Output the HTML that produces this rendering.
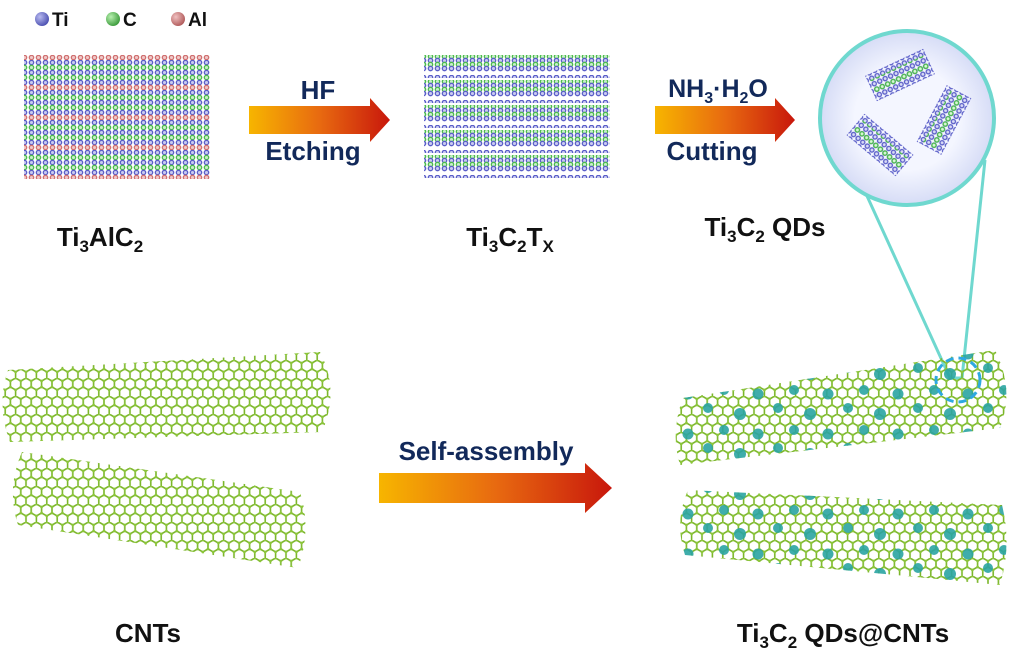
<!DOCTYPE html>
<html><head><meta charset="utf-8"><style>
html,body{margin:0;padding:0;background:#fff;}
svg{display:block;}
.lab{font-family:"Liberation Sans",sans-serif;font-weight:bold;fill:#111;}
.arr{font-family:"Liberation Sans",sans-serif;font-weight:bold;fill:#12295a;}
</style></head><body>
<svg width="1024" height="658" viewBox="0 0 1024 658" xmlns="http://www.w3.org/2000/svg">
<defs>
<linearGradient id="ag" x1="0" x2="1" y1="0" y2="0">
<stop offset="0" stop-color="#f7b500"/><stop offset="0.5" stop-color="#e86a10"/><stop offset="1" stop-color="#c8170c"/>
</linearGradient>
<radialGradient id="ti" cx="0.35" cy="0.35" r="0.7"><stop offset="0" stop-color="#b8baf0"/><stop offset="1" stop-color="#4a4fb0"/></radialGradient>
<radialGradient id="cc" cx="0.35" cy="0.35" r="0.7"><stop offset="0" stop-color="#b8f0b0"/><stop offset="1" stop-color="#3a9a3a"/></radialGradient>
<radialGradient id="al" cx="0.35" cy="0.35" r="0.7"><stop offset="0" stop-color="#f0c0c0"/><stop offset="1" stop-color="#b05a5a"/></radialGradient>
<radialGradient id="mag" cx="0.5" cy="0.5" r="0.5"><stop offset="0.6" stop-color="#f4f6ff"/><stop offset="1" stop-color="#d6dcf6"/></radialGradient>
<pattern id="p1" width="7" height="30" patternUnits="userSpaceOnUse">
<g fill="#c8caf0" stroke-width="1.3">
<circle cx="3.5" cy="2.5" r="2.2" stroke="#5a5ec8"/>
<circle cx="3.5" cy="7.5" r="2.2" stroke="#4cba4c" fill="#c8f0c8"/>
<circle cx="3.5" cy="12.5" r="2.2" stroke="#5a5ec8"/>
<circle cx="3.5" cy="17.5" r="2.2" stroke="#4cba4c" fill="#c8f0c8"/>
<circle cx="3.5" cy="22.5" r="2.2" stroke="#5a5ec8"/>
<circle cx="3.5" cy="27.5" r="2.2" stroke="#d07070" fill="#f0c8c8"/>
</g></pattern>
<pattern id="p2" width="7" height="25" patternUnits="userSpaceOnUse">
<g fill="#c8caf0" stroke-width="1.3">
<circle cx="3.5" cy="2.5" r="2.2" stroke="#5a5ec8"/>
<circle cx="3.5" cy="6.5" r="2.2" stroke="#4cba4c" fill="#c8f0c8"/>
<circle cx="3.5" cy="10.5" r="2.2" stroke="#5a5ec8"/>
<circle cx="3.5" cy="14.5" r="2.2" stroke="#4cba4c" fill="#c8f0c8"/>
<circle cx="3.5" cy="18.5" r="2.2" stroke="#5a5ec8"/>
</g></pattern>
<pattern id="p3" width="6" height="6" patternUnits="userSpaceOnUse">
<circle cx="3" cy="3" r="2.1" fill="#d8daf6" stroke="#5a5ec8" stroke-width="1.3"/>
</pattern>
<pattern id="p3g" width="6" height="12" patternUnits="userSpaceOnUse">
<circle cx="3" cy="3" r="2.1" fill="#d8f6d8" stroke="#4cba4c" stroke-width="1.3"/>
</pattern>
<pattern id="hex" width="10.4" height="18" patternUnits="userSpaceOnUse">
<g stroke="#7bb52a" stroke-width="1.6" fill="none">
<path d="M0,3 L5.2,0 L10.4,3 L10.4,9 L5.2,12 L0,9 Z M5.2,12 L5.2,18"/>
</g>
<g fill="#8cc63a"><circle cx="0" cy="3" r="1.4"/><circle cx="5.2" cy="0" r="1.4"/><circle cx="10.4" cy="3" r="1.4"/><circle cx="10.4" cy="9" r="1.4"/><circle cx="5.2" cy="12" r="1.4"/><circle cx="0" cy="9" r="1.4"/></g>
</pattern>
<pattern id="hexd" width="70" height="40" patternUnits="userSpaceOnUse">
<g fill="#2aa4a2"><circle cx="8" cy="8" r="5"/><circle cx="40" cy="14" r="6"/><circle cx="24" cy="30" r="5"/><circle cx="58" cy="34" r="5.5"/></g>
</pattern>
</defs>

<!-- legend -->
<circle cx="42" cy="19" r="7" fill="url(#ti)"/><text x="52" y="26" class="lab" font-size="19">Ti</text>
<circle cx="113" cy="19" r="7" fill="url(#cc)"/><text x="123" y="26" class="lab" font-size="19">C</text>
<circle cx="178" cy="19" r="7" fill="url(#al)"/><text x="188" y="26" class="lab" font-size="19">Al</text>

<!-- Ti3AlC2 crystal -->
<rect x="24" y="55" width="186" height="124" fill="url(#p1)"/>

<!-- arrow 1 -->
<path d="M249,106 L370,106 L370,98 L390,120 L370,142 L370,134 L249,134 Z" fill="url(#ag)"/>
<text x="318" y="99" class="arr" font-size="26" text-anchor="middle">HF</text>
<text x="313" y="160" class="arr" font-size="26" text-anchor="middle">Etching</text>

<!-- Ti3C2Tx -->
<rect x="424" y="55" width="186" height="23" fill="url(#p2)"/>
<rect x="424" y="80" width="186" height="23" fill="url(#p2)"/>
<rect x="424" y="105" width="186" height="23" fill="url(#p2)"/>
<rect x="424" y="130" width="186" height="23" fill="url(#p2)"/>
<rect x="424" y="155" width="186" height="23" fill="url(#p2)"/>

<!-- arrow 2 -->
<path d="M655,106 L775,106 L775,98 L795,120 L775,142 L775,134 L655,134 Z" fill="url(#ag)"/>
<text x="718" y="97" class="arr" font-size="25" text-anchor="middle">NH<tspan font-size="16" dy="6">3</tspan><tspan dy="-6">·H</tspan><tspan font-size="16" dy="6">2</tspan><tspan dy="-6">O</tspan></text>
<text x="712" y="160" class="arr" font-size="26" text-anchor="middle">Cutting</text>

<!-- magnifier -->
<path d="M862,185 L950,378 L962,378 L985,160" fill="none" stroke="#6fd8cf" stroke-width="3"/>
<circle cx="907" cy="118" r="87" fill="url(#mag)" stroke="#6fd8cf" stroke-width="4"/>
<g transform="translate(900,75) rotate(-25)"><rect x="-32" y="-14" width="64" height="28" fill="url(#p3)"/><rect x="-30" y="-8" width="60" height="18" fill="url(#p3g)"/></g>
<g transform="translate(880,145) rotate(40)"><rect x="-32" y="-14" width="64" height="28" fill="url(#p3)"/><rect x="-30" y="-8" width="60" height="18" fill="url(#p3g)"/></g>
<g transform="translate(944,120) rotate(-62)"><rect x="-32" y="-14" width="64" height="28" fill="url(#p3)"/><rect x="-30" y="-8" width="60" height="18" fill="url(#p3g)"/></g>

<!-- labels top -->
<text x="100" y="246" class="lab" font-size="26" text-anchor="middle">Ti<tspan font-size="17" dy="6">3</tspan><tspan dy="-6">AlC</tspan><tspan font-size="17" dy="6">2</tspan></text>
<text x="510" y="246" class="lab" font-size="26" text-anchor="middle">Ti<tspan font-size="17" dy="6">3</tspan><tspan dy="-6">C</tspan><tspan font-size="17" dy="6">2</tspan><tspan dy="-6">T</tspan><tspan font-size="17" dy="6">X</tspan></text>
<text x="765" y="236" class="lab" font-size="26" text-anchor="middle">Ti<tspan font-size="17" dy="6">3</tspan><tspan dy="-6">C</tspan><tspan font-size="17" dy="6">2</tspan><tspan dy="-6"> QDs</tspan></text>

<!-- CNTs left -->
<path d="M8,370 L320,352 Q340,390 322,432 L10,442 Q-4,405 8,370 Z" fill="url(#hex)"/>
<path d="M22,452 L300,492 Q312,530 298,568 L18,525 Q6,488 22,452 Z" fill="url(#hex)"/>

<!-- arrow 3 -->
<path d="M379,473 L585,473 L585,463 L612,488 L585,513 L585,503 L379,503 Z" fill="url(#ag)"/>
<text x="486" y="460" class="arr" font-size="26" text-anchor="middle">Self-assembly</text>

<!-- CNTs right -->
<path d="M683,398 L995,350 Q1015,390 1000,428 L680,465 Q670,432 683,398 Z" fill="url(#hex)"/>
<path d="M683,398 L995,350 Q1015,390 1000,428 L680,465 Q670,432 683,398 Z" fill="url(#hexd)" opacity="0.9"/>
<path d="M688,490 L1002,505 Q1012,545 1000,585 L685,555 Q674,522 688,490 Z" fill="url(#hex)"/>
<path d="M688,490 L1002,505 Q1012,545 1000,585 L685,555 Q674,522 688,490 Z" fill="url(#hexd)" opacity="0.9"/>
<circle cx="958" cy="380" r="22" fill="none" stroke="#2ea8e0" stroke-width="3" stroke-dasharray="8,5"/>

<!-- labels bottom -->
<text x="148" y="642" class="lab" font-size="26" text-anchor="middle">CNTs</text>
<text x="843" y="642" class="lab" font-size="26" text-anchor="middle">Ti<tspan font-size="17" dy="6">3</tspan><tspan dy="-6">C</tspan><tspan font-size="17" dy="6">2</tspan><tspan dy="-6"> QDs@CNTs</tspan></text>
</svg>
</body></html>
